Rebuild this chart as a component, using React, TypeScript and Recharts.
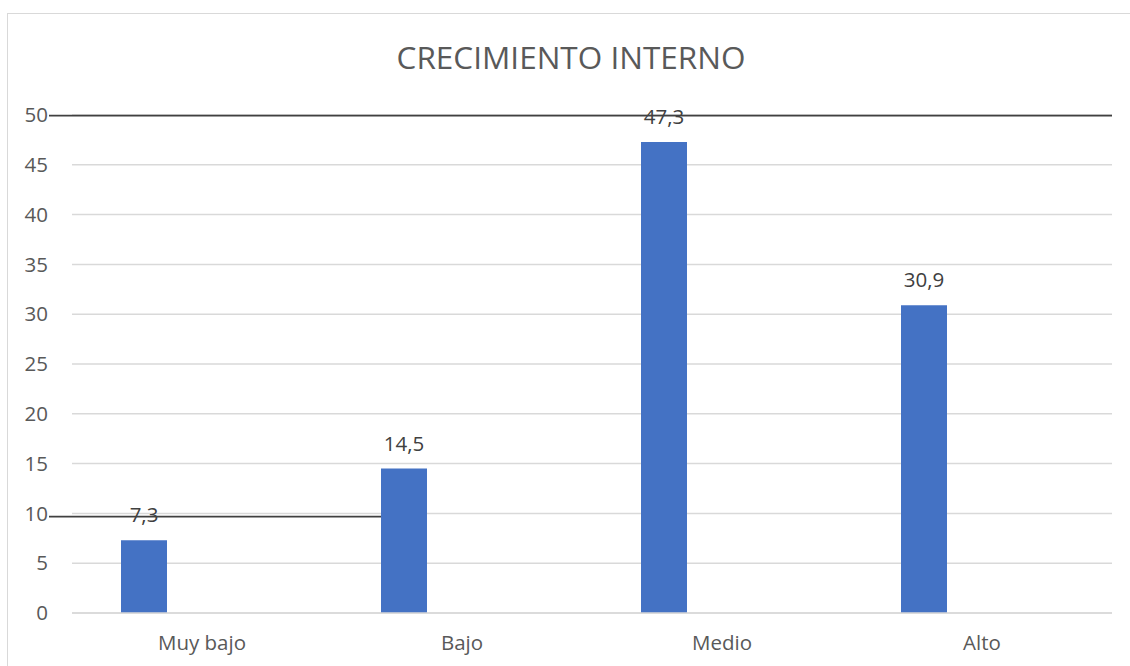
import { Bar, BarChart, CartesianGrid, LabelList, XAxis, YAxis } from "recharts"

// categories and values
const categories = ["Muy bajo", "Bajo", "Medio", "Alto"]
const crecimiento = [7.3, 14.5, 47.3, 30.9]
// second series is empty in the original (keeps the bars shifted left)
const vacio = [null, null, null, null]
const yTicks = [0, 5, 10, 15, 20, 25, 30, 35, 40, 45, 50]

const data = categories.map((name, i) => ({ name, crecimiento: crecimiento[i], vacio: vacio[i] }))

const font = "'Open Sans', 'Noto Sans', sans-serif"

export default function App() {
  return (
    <div
      style={{
        position: "absolute",
        left: 0,
        top: 0,
        width: 1130,
        height: 666,
        overflow: "hidden",
        background: "#fff",
        fontFamily: font,
      }}
    >
      <div
        style={{
          position: "absolute",
          left: 7,
          top: 13,
          width: 1140,
          height: 700,
          border: "1.5px solid #d9d9d9",
        }}
      />
      <div style={{ position: "absolute", left: 0, top: 0 }}>
        <BarChart
          width={1130}
          height={666}
          data={data}
          margin={{ top: 115, right: 18, left: 0, bottom: 0 }}
          barSize={46}
          barGap={70}
        >
          <CartesianGrid vertical={false} stroke="#d9d9d9" strokeWidth={1.5} />
          <XAxis
            dataKey="name"
            height={53}
            axisLine={{ stroke: "#d9d9d9", strokeWidth: 1.5 }}
            tickLine={false}
            tickSize={0}
            tickMargin={22}
            tick={{ fill: "#595959", fontSize: 20.5, fontFamily: font }}
          />
          <YAxis
            width={72}
            domain={[0, 50]}
            ticks={yTicks}
            interval={0}
            axisLine={false}
            tickLine={false}
            tickSize={0}
            tickMargin={24}
            tick={{ fill: "#595959", fontSize: 20.5, fontFamily: font }}
          />
          <Bar dataKey="crecimiento" fill="#4472C4" isAnimationActive={false}>
            <LabelList
              dataKey="crecimiento"
              position="top"
              offset={18}
              formatter={(v: number) => String(v).replace(".", ",")}
              style={{ fill: "#404040", fontSize: 20.5, fontFamily: font }}
            />
          </Bar>
          <Bar dataKey="vacio" fill="#ED7D31" isAnimationActive={false} />
        </BarChart>
      </div>
      <svg
        width={1130}
        height={666}
        style={{ position: "absolute", left: 0, top: 0, pointerEvents: "none" }}
      >
        <text x={571} y={69} textAnchor="middle" fill="#595959" fontSize={31.5} fontFamily={font}>
          CRECIMIENTO INTERNO
        </text>
        <line x1={49} x2={1112} y1={115.5} y2={115.5} stroke="#404040" strokeWidth={1.75} />
        <line x1={49} x2={381} y1={516.7} y2={516.7} stroke="#404040" strokeWidth={1.75} />
      </svg>
    </div>
  )
}
